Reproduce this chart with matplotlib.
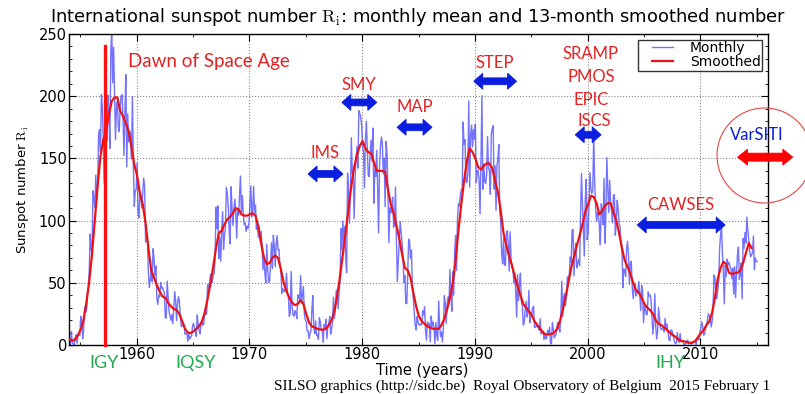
import numpy as np
import matplotlib
matplotlib.use('Agg')
import matplotlib.pyplot as plt
from matplotlib.patches import Ellipse, Polygon
from matplotlib.lines import Line2D
from matplotlib.legend_handler import HandlerLine2D

plt.rcParams['mathtext.fontset'] = 'cm'
plt.rcParams['font.family'] = ['DejaVu Sans']

# ---------------- data ----------------
start_year = 1954  # first monthly value = January 1954

monthly_1950s = [
    0.2, 0.5, 10.9, 1.8, 0.8, 0.2, 4.8, 8.4, 1.5, 7.0, 9.2, 7.6,
    23.1, 20.8, 4.9, 11.3, 28.9, 31.7, 26.7, 40.7, 42.7, 58.5, 89.2, 76.9,
    73.6, 124.0, 118.4, 110.7, 136.6, 116.6, 129.1, 169.6, 173.2, 155.3, 201.3, 192.1,
    165.0, 130.2, 157.4, 175.2, 164.6, 200.7, 187.2, 158.0, 235.8, 253.8, 210.9, 239.4,
    202.5, 164.9, 190.7, 196.0, 175.3, 171.5, 191.4, 200.2, 201.2, 181.5, 152.3, 187.6,
    217.4, 143.1, 185.7, 163.3, 172.0, 168.7, 149.6, 199.6, 145.2, 111.4, 124.0, 125.0]
monthly_1960s = [
    146.3, 106.0, 102.2, 122.0, 119.6, 110.2, 121.7, 134.1, 127.2, 82.8, 89.6, 85.6,
    57.9, 46.1, 53.0, 61.4, 51.0, 77.4, 70.2, 55.8, 63.6, 37.7, 32.6, 40.0,
    38.7, 50.3, 45.6, 46.4, 43.7, 42.0, 21.8, 21.8, 51.3, 39.5, 26.9, 23.2,
    19.8, 24.4, 17.1, 29.3, 43.0, 35.9, 19.6, 33.2, 38.8, 35.3, 23.4, 14.9,
    15.3, 17.7, 16.5, 8.6, 9.5, 9.1, 3.1, 9.3, 4.7, 6.1, 7.4, 15.1,
    17.5, 14.2, 11.7, 6.8, 24.1, 15.9, 11.9, 8.9, 16.8, 20.1, 15.8, 17.0,
    28.2, 24.4, 25.3, 48.7, 45.3, 47.7, 56.7, 51.2, 50.2, 57.2, 57.2, 70.4,
    110.9, 93.6, 111.8, 69.5, 86.5, 67.3, 91.5, 107.2, 76.8, 88.2, 94.3, 126.4,
    121.8, 111.9, 92.2, 81.2, 127.2, 110.3, 96.1, 109.3, 117.2, 107.7, 86.0, 109.8,
    104.4, 120.5, 135.8, 106.8, 120.0, 106.0, 96.8, 98.0, 91.3, 95.7, 93.5, 97.9]
monthly_1970s = [
    111.5, 127.8, 102.9, 109.5, 127.5, 106.8, 112.5, 93.0, 99.5, 86.6, 95.2, 83.5,
    91.3, 79.0, 60.7, 71.8, 57.5, 49.8, 81.0, 61.4, 50.2, 51.7, 63.2, 82.2,
    61.5, 88.4, 80.1, 63.2, 80.5, 88.0, 76.5, 76.8, 64.0, 61.3, 41.6, 45.3,
    43.4, 42.9, 46.0, 57.7, 42.4, 39.5, 23.1, 25.6, 59.3, 30.7, 23.9, 23.3,
    27.6, 26.0, 21.3, 40.3, 39.5, 36.0, 55.8, 33.6, 40.2, 47.1, 25.0, 20.5,
    18.9, 11.5, 11.5, 5.1, 9.0, 11.4, 28.2, 39.7, 13.9, 9.1, 19.4, 7.8,
    8.1, 4.3, 21.9, 18.8, 12.4, 12.2, 1.9, 16.4, 13.5, 20.6, 5.2, 15.3,
    16.4, 23.1, 8.7, 12.9, 18.6, 38.5, 21.4, 30.1, 44.0, 43.8, 29.1, 43.2,
    51.9, 93.6, 76.5, 99.7, 82.7, 95.1, 70.4, 58.1, 138.2, 125.1, 97.9, 122.7,
    166.6, 137.5, 138.0, 101.5, 134.4, 149.5, 159.4, 142.2, 188.4, 186.2, 183.3, 176.3]
monthly_1980s = [
    159.6, 155.0, 126.2, 164.1, 179.9, 157.3, 136.3, 135.4, 155.0, 164.7, 147.9, 174.4,
    114.0, 141.3, 135.5, 156.4, 127.5, 90.0, 143.8, 158.7, 167.3, 162.4, 137.5, 150.1,
    111.2, 163.6, 153.8, 122.0, 82.2, 110.4, 106.1, 107.6, 118.8, 94.7, 98.1, 127.0,
    84.3, 51.0, 66.5, 80.7, 99.2, 91.1, 82.2, 71.8, 50.3, 55.8, 33.3, 33.4,
    57.0, 85.1, 83.5, 69.7, 76.4, 46.1, 37.4, 25.5, 15.7, 12.0, 22.8, 18.7,
    16.5, 15.9, 17.2, 16.2, 27.5, 24.2, 30.7, 11.1, 3.9, 18.6, 16.2, 17.3,
    2.5, 23.2, 15.1, 18.5, 13.7, 1.1, 18.1, 7.4, 3.8, 35.4, 15.2, 6.8,
    10.4, 2.4, 14.7, 39.6, 33.0, 17.4, 33.0, 38.7, 33.9, 60.6, 39.9, 27.1,
    59.0, 40.0, 76.2, 88.0, 60.1, 101.8, 113.8, 111.6, 120.1, 125.1, 125.1, 179.2,
    161.3, 165.1, 131.4, 130.6, 138.5, 196.2, 126.9, 168.9, 176.7, 159.4, 173.0, 165.5]
monthly_1990s = [
    177.3, 130.5, 140.3, 140.3, 132.2, 105.4, 149.4, 200.3, 125.2, 145.5, 131.4, 129.7,
    136.9, 167.5, 141.9, 140.0, 121.3, 169.7, 173.7, 176.3, 125.3, 144.1, 108.2, 144.4,
    150.0, 161.1, 106.7, 99.8, 73.8, 65.2, 85.7, 64.5, 63.9, 88.7, 91.8, 82.6,
    59.3, 91.0, 69.8, 62.2, 61.3, 49.8, 57.9, 42.2, 22.4, 56.4, 35.6, 48.9,
    57.8, 35.5, 31.7, 16.1, 17.8, 28.0, 35.1, 22.5, 25.7, 44.0, 18.0, 26.2,
    24.2, 29.9, 31.1, 14.0, 14.5, 15.6, 14.5, 14.3, 11.8, 21.1, 9.0, 10.0,
    11.5, 4.4, 9.2, 4.8, 5.5, 11.8, 8.2, 14.4, 1.6, 0.9, 17.9, 13.3,
    5.7, 7.6, 8.7, 15.5, 18.5, 12.7, 10.4, 24.4, 51.3, 22.8, 39.0, 41.2,
    31.9, 40.3, 54.8, 53.4, 56.3, 70.7, 66.6, 92.2, 92.9, 55.5, 74.0, 81.9,
    62.0, 66.3, 68.8, 63.7, 106.4, 137.7, 113.5, 93.7, 71.5, 116.7, 133.2, 84.6]
monthly_2000s = [
    90.1, 112.9, 138.5, 125.5, 121.6, 124.9, 170.1, 130.5, 109.7, 99.4, 106.8, 104.4,
    95.6, 80.6, 113.5, 107.7, 96.6, 134.0, 81.8, 106.4, 150.7, 125.5, 106.5, 132.2,
    114.1, 107.4, 98.4, 120.7, 120.8, 88.3, 99.6, 116.4, 109.6, 97.5, 95.5, 80.8,
    79.7, 46.0, 61.1, 60.0, 55.2, 77.4, 83.3, 72.7, 48.7, 65.5, 67.3, 46.5,
    37.3, 45.8, 49.1, 39.3, 41.5, 43.2, 51.1, 40.9, 27.7, 48.0, 43.5, 17.9,
    31.3, 29.2, 24.5, 24.4, 42.7, 39.3, 40.1, 36.4, 21.9, 8.7, 18.0, 41.2,
    15.3, 4.9, 10.6, 30.2, 22.3, 13.9, 12.2, 12.9, 14.4, 10.5, 21.4, 13.6,
    16.8, 10.7, 4.5, 3.4, 11.7, 12.1, 9.7, 6.0, 2.4, 0.9, 1.7, 10.1,
    3.3, 2.1, 9.3, 2.9, 3.2, 3.4, 0.5, 0.5, 1.1, 2.9, 4.1, 0.8,
    1.5, 1.4, 0.7, 1.2, 2.9, 2.6, 3.5, 0.0, 4.2, 4.6, 4.2, 10.6]
monthly_2010s = [
    13.1, 18.6, 15.4, 7.9, 8.8, 13.5, 16.1, 19.6, 25.2, 23.5, 21.6, 14.5,
    19.0, 29.4, 56.2, 54.4, 41.6, 37.0, 43.9, 50.6, 78.0, 88.0, 96.7, 73.0,
    58.3, 33.1, 64.2, 55.2, 69.0, 64.5, 66.5, 63.0, 61.4, 53.3, 61.8, 40.8,
    62.9, 38.1, 57.9, 72.4, 78.7, 52.5, 57.0, 66.0, 37.0, 85.6, 77.6, 90.3,
    82.0, 102.8, 92.2, 84.7, 75.2, 71.0, 72.4, 74.6, 87.6, 60.6, 70.0, 67.3,
    67.0]

# 13-month smoothed number, read every 3 months (Jan, Apr, Jul, Oct)
smoothed_1950s = [4.6, 3.4, 4.5, 8.0, 12.5, 20.0, 34.0, 51.0, 73.0, 100.0, 128.0, 152.0,
                  165.0, 172.0, 185.0, 196.0, 199.0, 199.0, 188.0, 184.0, 178.0, 172.0, 159.0, 145.0]
smoothed_1960s = [136.0, 122.0, 113.0, 98.0, 78.0, 60.0, 54.0, 48.0, 43.0, 39.0, 38.0, 34.0,
                  31.0, 29.0, 28.0, 25.0, 19.0, 13.0, 10.0, 9.6, 11.0, 13.0, 15.0, 19.0,
                  26.0, 37.0, 49.0, 63.0, 78.0, 90.0, 92.0, 97.0, 101.0, 103.0, 106.0, 110.0,
                  109.0, 105.0, 104.0, 104.0]
smoothed_1970s = [105.0, 106.0, 104.0, 95.0, 82.0, 70.0, 65.0, 66.0, 70.0, 72.0, 70.0, 61.0,
                  50.0, 43.0, 38.0, 34.0, 32.0, 33.0, 36.0, 33.0, 25.0, 18.0, 15.0, 14.0,
                  13.0, 12.5, 12.3, 13.0, 16.0, 20.0, 27.0, 40.0, 55.0, 73.0, 91.0, 110.0,
                  128.0, 143.0, 153.0, 160.0]
smoothed_1980s = [164.0, 158.0, 155.0, 154.0, 147.0, 140.0, 140.0, 140.0, 139.0, 125.0, 113.0, 106.0,
                  96.0, 86.0, 73.0, 62.0, 60.0, 54.0, 42.0, 31.0, 23.0, 19.0, 17.0, 15.0,
                  14.0, 13.0, 13.0, 13.0, 16.0, 21.0, 29.0, 38.0, 50.0, 68.0, 92.0, 113.0,
                  132.0, 148.0, 158.0, 155.0]
smoothed_1990s = [150.0, 143.0, 141.0, 144.0, 146.0, 146.0, 142.0, 132.0, 123.0, 108.0, 90.0, 80.0,
                  71.0, 64.0, 55.0, 47.0, 40.0, 33.0, 30.0, 27.0, 24.0, 19.0, 16.0, 13.0,
                  10.0, 8.5, 8.5, 8.8, 10.0, 13.0, 19.0, 28.0, 38.0, 50.0, 62.0, 71.0,
                  80.0, 88.0, 97.0, 107.0]
smoothed_2000s = [113.0, 120.0, 119.0, 114.0, 105.0, 108.0, 112.0, 114.0, 114.0, 107.0, 100.0, 90.0,
                  78.0, 68.0, 63.0, 57.0, 50.0, 44.0, 42.0, 38.0, 33.0, 30.0, 28.0, 25.0,
                  20.0, 17.0, 16.0, 14.0, 12.0, 10.0, 8.0, 6.5, 4.5, 3.2, 3.0, 2.2,
                  1.8, 2.0, 3.2, 6.3]
smoothed_2010s = [9.5, 12.0, 16.0, 19.0, 26.0, 38.0, 53.0, 62.0, 67.0, 65.0, 58.0, 57.0,
                  58.0, 58.0, 60.0, 66.0, 74.0, 81.9, 78.0]

campaigns = ['IMS', 'SMY', 'MAP', 'STEP', 'ISCS', 'CAWSES']
campaign_start = [1975.2, 1978.2, 1983.1, 1989.9, 1998.9, 2004.4]
campaign_end = [1978.3, 1981.3, 1986.2, 1993.7, 2001.2, 2012.2]
campaign_level = [137.5, 195.0, 175.0, 212.0, 169.0, 96.5]
campaign_label_level = [154.0, 209.0, 191.0, 226.5, 180.0, 112.5]

years_labels = ['IGY', 'IQSY', 'IHY']
years_label_x = [1957.1, 1965.2, 2007.3]

# ---------------- figure ----------------
W, H = 805, 394
fig = plt.figure(figsize=(W / 100, H / 100), dpi=100)
ax = fig.add_axes([69 / W, 1 - 345 / H, 699 / W, 311 / H])

monthly = np.array(monthly_1950s + monthly_1960s + monthly_1970s + monthly_1980s +
                   monthly_1990s + monthly_2000s + monthly_2010s)
t_month = start_year + (np.arange(len(monthly)) + 0.5) / 12.0
smoothed = np.array(smoothed_1950s + smoothed_1960s + smoothed_1970s + smoothed_1980s +
                    smoothed_1990s + smoothed_2000s + smoothed_2010s)
t_smooth = start_year + (np.arange(len(smoothed)) * 3 + 0.5) / 12.0

ax.plot(t_month, monthly, color='#5a5aff', lw=1.0, alpha=0.85, label='Monthly', zorder=2)
ax.plot(t_smooth, smoothed, color='#ee1111', lw=1.6, label='Smoothed', zorder=3)

ax.set_xlim(1954, 2016)
ax.set_ylim(0, 250)
ax.set_xticks([1960, 1970, 1980, 1990, 2000, 2010])
ax.set_xticks(np.arange(1955, 2016, 5), minor=True)
ax.set_yticks([0, 50, 100, 150, 200, 250])
ax.set_yticks(np.arange(0, 251, 10), minor=True)
ax.tick_params(which='both', direction='in', top=True, right=True, labelsize=10.5)
ax.tick_params(which='major', length=5, pad=1.5)
ax.tick_params(which='minor', length=2.5)
ax.grid(True, which='major', linestyle=':', color='#888888', lw=0.8)
for s in ax.spines.values():
    s.set_linewidth(1.0)

ax.set_ylabel(r'Sunspot number $\mathrm{R_i}$', fontsize=9.5)
ax.yaxis.set_label_coords(-0.055, 0.5)
ax.set_xlabel('Time (years)', fontsize=10.5)
ax.xaxis.set_label_coords(0.505, -0.058)

leg = ax.legend(loc='upper right', fontsize=10, frameon=True, fancybox=False,
                edgecolor='black', handlelength=2.45, borderaxespad=0.4,
                labelspacing=0.0, borderpad=0.12, handletextpad=1.2,
                handler_map={Line2D: HandlerLine2D(xpad=0.9)})
leg.get_frame().set_linewidth(1.0)

fig.text(418 / W, 1 - 17 / H,
         r'International sunspot number $\mathrm{R_i}$: monthly mean and 13-month smoothed number',
         ha='center', va='center', fontsize=12.9)
fig.text(770 / W, 1 - 386 / H,
         'SILSO graphics (http://sidc.be)  Royal Observatory of Belgium  2015 February 1',
         ha='right', va='center', fontsize=11.0, family='Liberation Serif')

# ---------------- annotations ----------------
ann_font = 'Lato'
red = '#e42222'
blue = '#0a1ee0'
green = '#22aa55'

ax.plot([1957.2, 1957.2], [0, 240], color='#ff1010', lw=2.4, zorder=4, clip_on=False)
ax.text(1966.4, 228, 'Dawn of Space Age', color=red, fontsize=13.5, family=ann_font,
        ha='center', va='center')

yr_per_px = 62.0 / 699.0
val_per_px = 250.0 / 311.0


def darrow(x0, x1, y, color, head_px=9.0, head_half_px=8.0, shaft_half_px=3.4):
    hl = head_px * yr_per_px
    hh = head_half_px * val_per_px
    sh = shaft_half_px * val_per_px
    pts = [(x0, y), (x0 + hl, y + hh), (x0 + hl, y + sh), (x1 - hl, y + sh),
           (x1 - hl, y + hh), (x1, y), (x1 - hl, y - hh), (x1 - hl, y - sh),
           (x0 + hl, y - sh), (x0 + hl, y - hh)]
    ax.add_patch(Polygon(pts, closed=True, fc=color, ec=color, lw=0.6,
                         clip_on=False, zorder=5))


for name, x0, x1, y, yl in zip(campaigns, campaign_start, campaign_end,
                               campaign_level, campaign_label_level):
    darrow(x0, x1, y, blue)
    if name != 'ISCS':
        ax.text((x0 + x1) / 2, yl, name, color=red, fontsize=12, family=ann_font,
                ha='center', va='center')

stack = ['SRAMP', 'PMOS', 'EPIC', 'ISCS']
stack_y = [234, 215.5, 197, 180]
for s, yy in zip(stack, stack_y):
    ax.text(2000.3 if s != 'ISCS' else 2000.6, yy, s, color=red, fontsize=12,
            family=ann_font, ha='center', va='center')

# VarSITI (outside the axes)
darrow(2013.3, 2018.2, 151, '#ff0000', head_px=10.0, head_half_px=8.0, shaft_half_px=4.0)
ax.text(2015.0, 169, 'VarSITI', color=blue, fontsize=12, family=ann_font,
        ha='center', va='center', clip_on=False)
fig.patches.append(Ellipse((764.5 / W, 1 - 155.5 / H), 95 / W, 95 / H,
                           transform=fig.transFigure, fill=False,
                           ec='#e04848', lw=0.8))

for lab, xx in zip(years_labels, years_label_x):
    fig.text(69 / W + (xx - 1954) / 62 * 699 / W, 1 - 363 / H, lab, color=green,
             fontsize=13, family=ann_font, ha='center', va='center')

fig.savefig('out.png', dpi=100)
